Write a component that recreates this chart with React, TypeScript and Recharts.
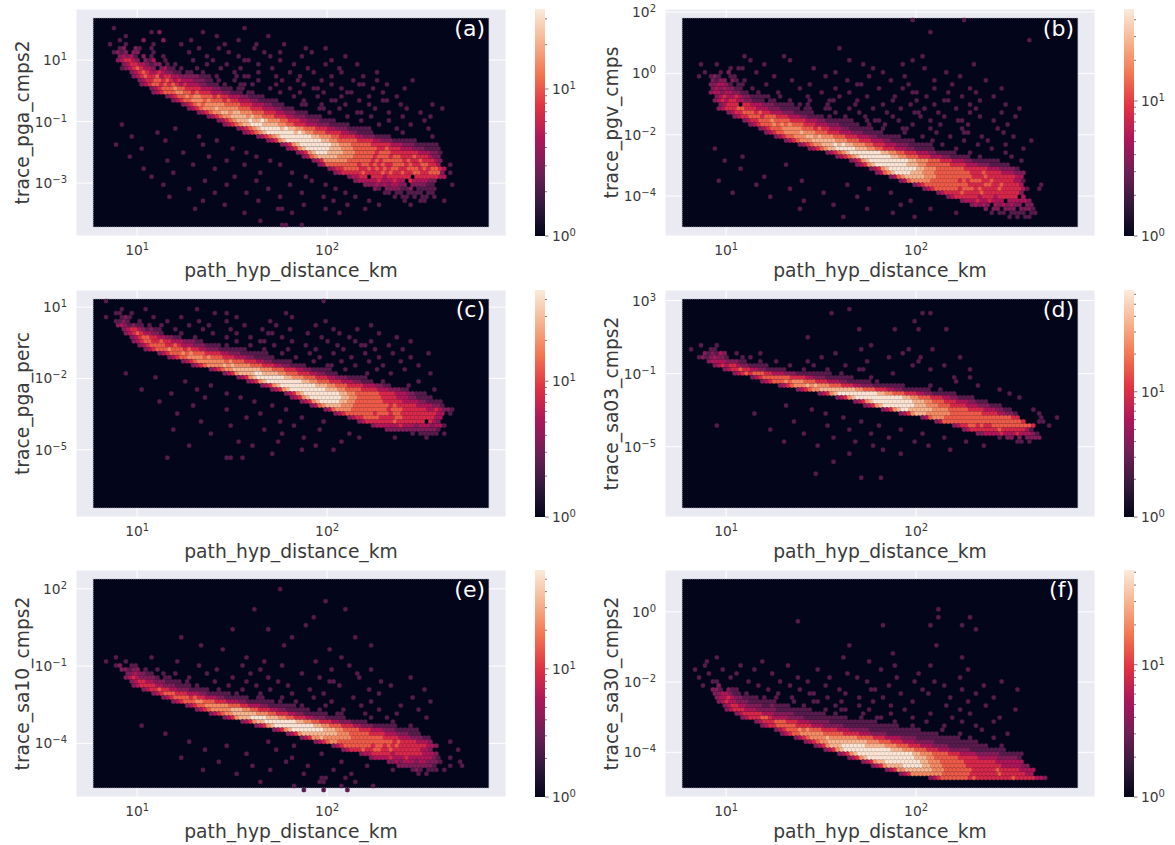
import { Bar, BarChart, CartesianGrid, ReferenceArea, Scatter, ScatterChart, XAxis, YAxis } from 'recharts';

const FONT = '"DejaVu Sans", sans-serif';
const TEXT = '#3a3a3a';

// density levels: one entry per hex row,
// "col:digits" runs of non-empty bins, '.' = empty bin inside a run
const rowsA = [
  '', '',
  '5:2 38:2',
  '14:2 16:3 27:2',
  '8:2 31:2 44:2',
  '6:2 12:3 17:3 24:2 36:2',
  '4:2 8:2 15:2 22:2 33:2 41:2 48:2',
  '6:23 10:32 14:2 26:2 31:2 40:2 53:2 58:2',
  '5:2323 10:33 15:2 24:2 34:2 43:2 47:2 55:2',
  '6:34342 12:3.2 17:2 28:2 36:2 44:2 52:2 63:2',
  '6:345543 13:324 18:2 25:2 30:2 38:22 47:2 60:2',
  '7:34554432 15:33.2 20:2 28:2 33:2 41:2 50:2 58:2 66:2',
  '7:234565443.3422 22:2 26:2 32:2 37:2 45:2 54:2 62:2',
  '9:3456544543322 23:22 27:2 35:2 41:2 49:2 55:2 62:2 71:2',
  '10:34565564554433333222.2 36:2 38:22 46:2 52:2 60:2 68:2',
  '11:3455665654544433322 31:2 35:2 41:2 47:2 51:2 57:2 65:2 71:2 80:2',
  '12:34566565654544433222.2 37:22 40:2 46:2 53:2 60:2 67:22 74:2',
  '14:345666766555544433222.22 44:2 49:2 55:22 62:2 70:2 78:2',
  '15:34566677665655544433222.22 47:2 52:2 58:2 64:22 73:2',
  '18:3456676776665655444332222 50:2 56:2 62:2 69:2 76:2',
  '20:345667776766656554443322222 53:2 60:22 67:2 73:22',
  '22:34567677777666655544433222 52:22 57:2 63:2 69:2 77:2 85:2',
  '24:345677787777766655544433222 57:22 62:2 71:2 79:2 88:2',
  '26:3456778878877766655544333222 59:2 66:22 74:2 82:2',
  '29:34567788887877666555443332222 64:2 70:2 78:2 85:2',
  '31:345678889889877766555443332222 67:2 74:2 83:2',
  '7:2 33:34567889998888776655544433322222 72:2 80:2',
  '20:2 36:3456789999989887766655544333222222 76:2 84:2',
  '16:2 38:345678999999989877666555544332222 78:2',
  '9:2 26:2 41:3456789999999988777665555443332222 85:2',
  '18:2 31:2 44:34578999999999887766666555544333222222',
  '5:2 27:2 47:3457899999999887776666655555444333222222',
  '12:2 35:2 49:345789999998887776666665565554443332222',
  '22:2 38:2 51:3457899988887776666656665555555444332',
  '9:2 29:2 41:2 53:34678888877776666656665665556555433',
  '18:2 33:2 44:2 55:345777777666666565666665655655543',
  '25:2 38:2 47:2 57:3466666666566565655666565566554 90:2',
  '12:2 30:2 59:345566665565656566556665656654',
  '20:2 42:2 50:2 61:3455555655556565565566556663 90:2',
  '14:2 35:2 53:2 64:34455.5554555555.55555544',
  '28:2 41:2 55:2 66:3444445444544.5444433',
  '17:2 33:2 49:2 58:2 68:33343434433.333322 90:2',
  '24:2 44:2 61:2 71:32.3333223.22222',
  '30:2 38:2 52:2 63:2 73:22.22.2222.22',
  '19:2 47:2 58:2 66:2 76:2.22.2.22 86:2',
  '27:2 41:2 60:2 69:2 78:2 82:22 88:2',
  '33:2 53:2 64:2 72:2 80:2',
  '25:2 46:22 58:2 68:2',
  '38:2 50:2 62:2',
  '',
  '42:2',
  '47:22 52:2',
];
const rowsB = [
  '58:2 71:2', '', '', '62:2', '', '87:2', '', '39:2', '', '15:2 25:2 60:2',
  '17:2 27:2 42:2 58:2', '4:2 8:2 20:2 45:2 55:2 73:2',
  '12:2 14:22 33:2 48:2 61:2',
  '5:2 9:2 11:3 18:2 38:2 50:2 66:2',
  '4:2 7:232 12:22 23:2 36:2 47:2 56:2 70:2',
  '7:3233.32 15:2 27:2 41:2 52:2 63:2 76:2',
  '7:334432 14:22 21:2 32:2 44:22 57:2 68:2',
  '7:34343322 17:2 29:2 38:2 49:2 55:2 63:2 72:2 80:2',
  '7:3443443322 19:2 24:2 35:2 42:2 58:22 67:2 74:2',
  '8:34544543322222 24:2 31:2 39:2 46:2 53:2 61:2 70:2 78:2',
  '8:3454554433222.22 27:2 32:2 37:22 44:2 53:2 59:2 66:22 75:2',
  '9:34555.5544433322222.2 31:2 36:2 43:2 50:2 57:2 63:2 72:2 81:2',
  '9:345556655544433322222.22 36:22 42:2 48:2 55:2 61:2 69:2 74:2 85:2',
  '11:3455666565544433322222 38:2 44:2 51:2 58:22 64:2 72:2 80:2',
  '13:34556665666555444332222.2 41:2 46:2 53:2 60:2 66:2 75:2 84:2',
  '15:3455666766665555444332222222 46:2 48:22 54:2 62:2 69:22 78:2',
  '17:3456667676766655544433322222 47:2 51:2 58:2 65:2 72:2 82:2',
  '19:34566677777666565544433222222 50:2 55:22 62:2 70:2 79:2',
  '21:345667777877766655544433322222 56:2 64:2 71:22 81:2',
  '23:34566777887877766655544433222222 60:2 67:2 75:2 83:2',
  '26:345677788888877766655544433222222 63:2 71:2 77:2 88:2',
  '29:3456778889898877766555444333222222 65:2 74:2 81:2',
  '8:2 32:34567889999988877665554443322222 69:2 78:2 86:2',
  '36:345678999999998877665554443322222 72:2 81:2',
  '15:2 39:3456789999999988776665554443322222 75:2 83:2',
  '10:2 42:34578999999999988777666555444332222222 85:2',
  '26:2 44:345789999999988877666666555544433322222',
  '14:2 47:34578999999988777666666655555544433332',
  '49:34678999988877766666666655565555444333',
  '20:2 52:3467888887776666666665556555555544',
  '9:2 30:2 55:34677777666666656566655655555442',
  '18:2 41:2 58:3456666666666655556655655554 90:2',
  '27:2 47:2 61:345666666566656555565555542 90:2',
  '12:2 35:2 52:2 64:3455556555565555555553',
  '22:2 44:2 67:345555554555455555.4',
  '30:2 57:2 70:34445445444.444443',
  '38:2 55:2 73:34343.4343433.33',
  '29:2 46:2 62:2 76:3.33.333.3332',
  '53:2 69:2 78:2.22.2222.22',
  '40:2 58:2 82:2.2.22',
  '', '',
];
const rowsC = [
  '3:2 58:2', '', '7:2 13:2 26:2', '5:22 9:2 30:2 33:2 48:2',
  '3:2 7:232 15:2 22:2 36:2 50:2', '5:2232 11:2 18:2 26:2 33:2 44:2 58:2',
  '6:3432322 14:2 17:2 24:2 29:2 38:2 46:2 56:2 70:2',
  '7:3455432322 20:2 27:2 34:2 42:2 49:2 60:2 66:2',
  '8:3456544332 22:2 30:2 36:2 44:22 54:2 62:2 72:2',
  '9:3456655443322 25:2 33:2 39:2 47:2 57:2 64:2 76:2',
  '10:345665565544433322 36:2 42:22 50:2 59:2 66:2 70:2 80:2',
  '11:345666655654443332222.2 39:2 45:2 53:2 61:2 67:22 74:2',
  '13:34566676665655443332222222 43:2 49:2 56:2 63:2 71:2 78:2',
  '16:3456667676665555443332222222 47:2 54:2 60:2 68:2 75:2 84:2',
  '19:345667777676665554443322222 51:2 57:2 65:2 72:2 80:2',
  '22:3456777777767666555443322222 55:2 62:2 69:2 77:2',
  '25:34567777878777766655544332222 59:22 66:2 73:2 82:2',
  '29:3456778888888777666555443322222 63:2 71:2 78:2',
  '8:2 33:34578888998888776665554433222 69:2 75:2 85:2',
  '15:2 36:345789999999887776665554433322222',
  '23:2 39:34578999999999887766655544433222 73:2 82:2',
  '29:2 42:345789999999998887766655554443322 79:2',
  '12:2 26:2 45:34578999999999888776666555544433322 86:2',
  '19:2 33:2 48:345789999999998877666666555544433222',
  '28:2 37:2 50:345789999999988776666665555444332222',
  '16:2 40:2 52:345789999988776666666555554444332222',
  '25:2 45:2 55:3467888877766666666656555554444332',
  '33:2 48:2 58:34677776666666665666555555445433 90:2',
  '21:2 42:2 61:3456666666566656655555555544 90:2',
  '38:2 52:2 64:345566665555665555555544',
  '27:2 47:2 58:2 67:34555555565555555.543',
  '34:2 50:2 70:3444444544434443442',
  '20:2 43:2 57:2 74:33333333333332',
  '29:2 47:2 64:2 80:2.22222.2',
  '53:2 67:2 76:2 84:2',
  '36:2 46:2 62:2',
  '24:2 40:2 56:2',
  '52:2 60:2',
  '45:2',
  '18:2 33:22 37:2',
  '', '', '', '', '', '', '', '', '', '', '', '',
];
const rowsD = [
  '', '', '42:2', '37:2 60:2 62:2', '', '58:2', '', '44:2 53:2 59:2 66:2',
  '', '31:2', '', '4:2 8:2 47:2', '2:2 7:22 45:2 57:2 63:2',
  '5:323243 13:2 19:2 38:2 55:2', '4:2 5:3234332 15:2 17:2 35:2 52:2 60:2 70:2',
  '6:3444433322 19:2 23:2 31:2 46:2 59:2',
  '8:34545543322222 27:2 33:2 41:2 58:2 66:2',
  '10:3455655443322222 30:2 36:2 44:22 62:2 72:2',
  '13:3456566655444333222222222 40:2 53:2',
  '17:34566666665555443332222222 47:2 68:2 72:2',
  '20:3456667677766655544433222222 49:2 69:2',
  '24:34567778787776665554433322222222 62:2 74:2',
  '29:3456778888888887766655544332222222 65:2 80:2',
  '34:3457899999999998877666555443322222 68:2 82:2',
  '39:34578999999999999887766655544332222 73:2 85:2',
  '43:3457899999999998887766655544433222',
  '26:2 46:34578999999998887776665555444333222',
  '32:2 50:345789988888877776666655554443322 88:2',
  '18:2 36:2 55:345788877777766666666555544332 90:2',
  '40:2 60:3467776666666666666666655 90:2 94:2',
  '28:2 45:2 64:34666666666666666666665 90:22',
  '8:2 36:2 49:2 68:345566565566666666665 92:2',
  '22:2 42:2 55:2 71:345555555655555542',
  '30:2 47:2 60:2 74:3344445444544432',
  '38:2 52:2 66:2 80:2.33.3.3333',
  '25:2 43:2 58:2 71:2 84:22.2',
  '34:2 48:2 62:2 76:2',
  '50:2 67:2',
  '42:2 55:2',
  '',
  '38:2',
  '',
  '', '33:2', '45:2 50:2', '',
  '', '', '', '', '', '', '', '', '', '', '', '', '',
];
const rowsE = [
  '', '', '47:2', '', '', '58:2', '', '40:2 63:2', '', '55:2', '', '53:2',
  '35:2 44:2', '', '22:2 50:2 66:2', '', '27:2 48:2 70:2',
  '32:2 59:2', '', '5:2 14:2 38:2 62:2',
  '3:2 8:2 21:2 43:2 56:2', '5:23 9:22 26:2 37:2 47:2 64:2',
  '7:33233 13:2 16:2 31:2 42:2 60:2 70:2',
  '8:3343322 17:2 20:2 28:2 39:2 52:2 66:2',
  '8:345433332 18:22 24:2 35:2 44:2 57:2 67:2 80:2',
  '9:3455443332222 23:2 30:2 38:2 46:2 59:22 72:2',
  '10:345555443332222 26:2 34:2 41:2 49:2 62:2 75:2',
  '12:34556554433322222 31:2 37:2 44:2 54:2 69:2 83:2',
  '15:34566655544433222222 36:2 42:2 50:2 58:2 72:2',
  '17:3456666565544433222222 41:22 47:2 55:2 65:2 80:2',
  '20:34566677666555444332222222 47:2 51:2 60:2 70:2 85:2',
  '23:3456677777766655444332222222 52:2 58:2 67:2 77:2',
  '26:34567777788877665554433222222 57:2 63:2 72:2 82:2',
  '29:345677888888777665554433222222 61:22 68:2 76:2',
  '33:3457888999988877665554433322222 70:2 74:2 84:2',
  '37:34578899999999887766555443332222 75:2',
  '12:2 41:345789999999999887766655544333222222 80:2',
  '45:3457899999999888776666555444333222222',
  '18:2 49:3457888888888777666665555444333222',
  '52:345778777777766666666555544433322',
  '24:2 44:2 56:345677666666666666665655554443 90:2',
  '33:2 50:2 60:345666666656656565555555443',
  '28:2 46:2 63:34555655665565555555443 92:2',
  '38:2 57:2 67:34455555455555554443',
  '22:2 50:2 70:344445444544444432 90:2',
  '31:2 48:2 62:2 74:33434443443332 92:2',
  '40:2 54:2 69:2 77:3333333332 90:2 93:2',
  '27:2 44:2 60:2 75:2 80:232.222.2',
  '36:2 53:2 65:2 82:2.2',
  '57:22 63:2',
  '42:2 57:22 66:2',
  '50:2 62:2 70:2',
  '53:2 58:2 64:2',
  '',
];
const rowsF = [
  '', '', '', '', '', '', '',
  '64:2', '', '64:2 72:2', '29:2', '50:2 70:2 62:2', '74:2', '', '',
  '', '42:2 64:2', '', '53:2', '8:2 40:2 70:2', '6:2 20:2 47:2',
  '5:2 14:2 26:2 53:2 62:2', '3:2 10:2 18:2 34:2 50:2 72:2',
  '6:2 13:2 22:2 41:2 59:2', '4:2 12:2 29:2 37:2 44:2 54:2 70:2',
  '7:22 16:2 24:2 31:2 46:2 58:2 63:2 80:2', '5:2 9:3 19:2 27:2 36:2 52:2 66:2 76:2',
  '7:332.32 12:22 21:2 29:2 39:2 47:22 60:2 70:2 84:2',
  '8:3344322 16:2 24:2 32:22 41:2 55:2 62:2 74:2',
  '8:34454332222.2 23:2 27:2 36:2 44:2 50:2 67:2 78:2',
  '9:345443332222222 28:2 33:22 40:2 48:2 58:2 72:2',
  '10:34554433332232222 30:2 38:2 44:2 52:2 66:2 76:2',
  '11:3455544433333222222222 36:2 40:22 47:2 56:2 70:2 84:2',
  '13:34555554443333322222222 38:2 45:2 52:2 62:2 72:2',
  '15:345556654444333322222222222 45:2 49:22 58:2 68:2 80:2',
  '18:3455566655544433333222222222222 53:2 61:2 70:2 78:2',
  '20:34556666655554443333322222222222222 58:2 66:2 74:2',
  '23:3456667676665555444333332222222222222 65:2 75:2',
  '25:3456677777766666555544433332222222222222 70:2 82:2',
  '28:345677778777777766665554444333322222222222 72:2 78:2',
  '31:34567788888888887776665554443333322222222222',
  '33:34578889999998888877766655544433332222222222 80:2',
  '36:3457899999999999988877766655544433333222222222',
  '39:34578999999999999998877766665554444333333222222',
  '42:34578999999999999888776666665555544444333332',
  '45:34578899999999988777666666555555554444444',
  '48:3457888899999887776666665555555554444433',
  '51:34577888888877766666665555556555554444',
  '55:3457777777766666665555555655555544',
  '62:345666666656555555555655555443',
];

const letters = ['(a)', '(b)', '(c)', '(d)', '(e)', '(f)'];
const yNames = ['trace_pga_cmps2', 'trace_pgv_cmps', 'trace_pga_perc', 'trace_sa03_cmps2', 'trace_sa10_cmps2', 'trace_sa30_cmps2'];
const yTicks = [
  [10, 0.1, 0.001],
  [100, 1, 0.01, 0.0001],
  [10, 0.01, 0.00001],
  [1000, 0.1, 0.00001],
  [100, 0.1, 0.0001],
  [1, 0.01, 0.0001],
];
// log10 of the axis limits
const yLimits = [
  [-4.72, 2.66],
  [-5.3, 2.1],
  [-7.83, 1.72],
  [-8.85, 3.58],
  [-6.08, 2.73],
  [-5.27, 1.19],
];
const countMax = [35, 48, 47, 65, 59, 52];
const panelRows = [rowsA, rowsB, rowsC, rowsD, rowsE, rowsF];

const xLimits = [0.678, 2.942];
const xTicks = [10, 100];
const colorTicks = [1, 2, 3, 4, 5, 6, 7, 8, 9, 10, 20, 30, 40, 50, 60];

const rocketStops = ['#03051a', '#35193e', '#701f57', '#ad1759', '#e13342', '#f37651', '#f6b48f', '#faebdd'];
const levelColors = ['#03051a', '#2a1439', '#561c4c', '#7f1e58', '#ad1759', '#d6284a', '#ec5a48', '#f48a63', '#f6b48f', '#fae3d2'];

const COLS = 100;
const ROWS = 52;
const PAD = 0.04;
const HEX_W = 3.96;
const HEX_H = 4.4;

function buildCells(rows: string[], yLim: number[]) {
  const xSpan = xLimits[1] - xLimits[0];
  const ySpan = yLim[1] - yLim[0];
  const x0 = xLimits[0] + xSpan * PAD;
  const xStep = (xSpan * (1 - 2 * PAD)) / COLS;
  const y1 = yLim[1] - ySpan * PAD;
  const yStep = (ySpan * (1 - 2 * PAD)) / ROWS;
  const cells: { x: number; y: number; level: number }[] = [];
  rows.forEach((row, r) => {
    row.split(' ').filter(Boolean).forEach((run) => {
      const [start, digits] = run.split(':');
      [...digits].forEach((ch, i) => {
        if (ch === '.') return;
        cells.push({
          x: 10 ** (x0 + (Number(start) + i + 0.25 + (r % 2 ? 0.5 : 0)) * xStep),
          y: 10 ** (y1 - (r + 0.5) * yStep),
          level: Number(ch),
        });
      });
    });
  });
  return cells;
}

// squat hexagon, the bins of the original are wider than tall
const hexPath = `M0,${-HEX_H / 2}L${HEX_W / 2},${-HEX_H / 3}L${HEX_W / 2},${HEX_H / 3}L0,${HEX_H / 2}L${-HEX_W / 2},${HEX_H / 3}L${-HEX_W / 2},${-HEX_H / 3}Z`;

function HexCell(props: any) {
  const color = levelColors[props.payload?.level ?? props.level ?? 0];
  return <path d={hexPath} transform={`translate(${props.cx},${props.cy})`} fill={color} stroke={color} strokeWidth={0.4} />;
}

function powerLabel(value: number) {
  return String(Math.round(Math.log10(value))).replace('-', '\u2212');
}

function XTick({ x, y, payload }: any) {
  return (
    <text x={x} y={y + 10} textAnchor="middle" fill={TEXT} fontSize={13.8} fontFamily={FONT}>
      10<tspan dy={-5} fontSize={10}>{powerLabel(payload.value)}</tspan>
    </text>
  );
}

function YTick({ x, y, payload }: any) {
  return (
    <text x={x} y={y + 5} textAnchor="end" fill={TEXT} fontSize={13.8} fontFamily={FONT}>
      10<tspan dy={-5} fontSize={10}>{powerLabel(payload.value)}</tspan>
    </text>
  );
}

function ColorTick({ x, y, payload }: any) {
  const major = payload.value === 1 || payload.value === 10;
  return (
    <g>
      <line x1={x} x2={x + (major ? 3.5 : 2)} y1={y} y2={y} stroke="#555" strokeWidth={0.8} />
      {major && (
        <text x={x + 7} y={y + 5} fill={TEXT} fontSize={13.8} fontFamily={FONT}>
          10<tspan dy={-5} fontSize={10}>{powerLabel(payload.value)}</tspan>
        </text>
      )}
    </g>
  );
}

function Panel({ index }: { index: number }) {
  const left = index % 2 ? 589 : 0;
  const top = [0, 281, 561][Math.floor(index / 2)];
  const yLim = yLimits[index];
  const cells = buildCells(panelRows[index], yLim);
  const max = countMax[index];
  const gradId = `rocket${index}`;
  const xSpan = xLimits[1] - xLimits[0];
  const ySpan = yLim[1] - yLim[0];
  return (
    <>
      <div style={{ position: 'absolute', left, top }}>
        <ScatterChart width={510} height={285} margin={{ top: 9, right: 4, bottom: 0, left: 0 }}>
          <CartesianGrid fill="#eaeaf2" stroke="#ffffff" strokeWidth={1} />
          <XAxis
            type="number"
            dataKey="x"
            scale="log"
            domain={[10 ** xLimits[0], 10 ** xLimits[1]]}
            ticks={xTicks}
            allowDataOverflow
            height={49}
            axisLine={false}
            tickLine={false}
            tickSize={0}
            tickMargin={9}
            tick={<XTick />}
            label={{ value: 'path_hyp_distance_km', position: 'insideBottom', offset: 8, fontSize: 18.7, fill: TEXT, fontFamily: FONT }}
          />
          <YAxis
            type="number"
            dataKey="y"
            scale="log"
            domain={[10 ** yLim[0], 10 ** yLim[1]]}
            ticks={yTicks[index]}
            allowDataOverflow
            width={76}
            axisLine={false}
            tickLine={false}
            tickSize={0}
            tickMargin={9}
            tick={<YTick />}
            label={{ value: yNames[index], angle: -90, position: 'insideLeft', offset: 22, fontSize: 18.7, fill: TEXT, fontFamily: FONT, style: { textAnchor: 'middle' } }}
          />
          <ReferenceArea
            x1={10 ** (xLimits[0] + xSpan * PAD)}
            x2={10 ** (xLimits[1] - xSpan * PAD)}
            y1={10 ** (yLim[0] + ySpan * PAD)}
            y2={10 ** (yLim[1] - ySpan * PAD)}
            fill="#03051a"
            fillOpacity={1}
            stroke="#9a9aac"
            strokeWidth={0.8}
            strokeDasharray="1 1"
          />
          <Scatter data={cells} shape={HexCell} isAnimationActive={false} />
        </ScatterChart>
      </div>
      <div style={{ position: 'absolute', left: left + 440, top: top + 16, width: 45, textAlign: 'right', color: '#fff', fontSize: 22, fontFamily: FONT }}>
        {letters[index]}
      </div>
      <div style={{ position: 'absolute', left: left + 535, top }}>
        <BarChart width={50} height={285} data={[{ name: 'count', range: [1, max] }]} margin={{ top: 9, right: 0, bottom: 49, left: 0 }} barCategoryGap={0}>
          <defs>
            <linearGradient id={gradId} x1="0" y1="1" x2="0" y2="0">
              {rocketStops.map((c, i) => (
                <stop key={c} offset={i / (rocketStops.length - 1)} stopColor={c} />
              ))}
            </linearGradient>
          </defs>
          <XAxis dataKey="name" hide />
          <YAxis
            orientation="right"
            type="number"
            scale="log"
            domain={[1, max]}
            ticks={colorTicks.filter((t) => t <= max)}
            interval={0}
            allowDataOverflow
            width={40}
            axisLine={false}
            tickLine={false}
            tickSize={0}
            tickMargin={0}
            tick={<ColorTick />}
          />
          <Bar dataKey="range" fill={`url(#${gradId})`} isAnimationActive={false} />
        </BarChart>
      </div>
    </>
  );
}

export default function App() {
  return (
    <div style={{ position: 'absolute', left: 0, top: 0, width: 1175, height: 845, background: '#fff', overflow: 'hidden' }}>
      {letters.map((l, i) => (
        <Panel key={l} index={i} />
      ))}
    </div>
  );
}
